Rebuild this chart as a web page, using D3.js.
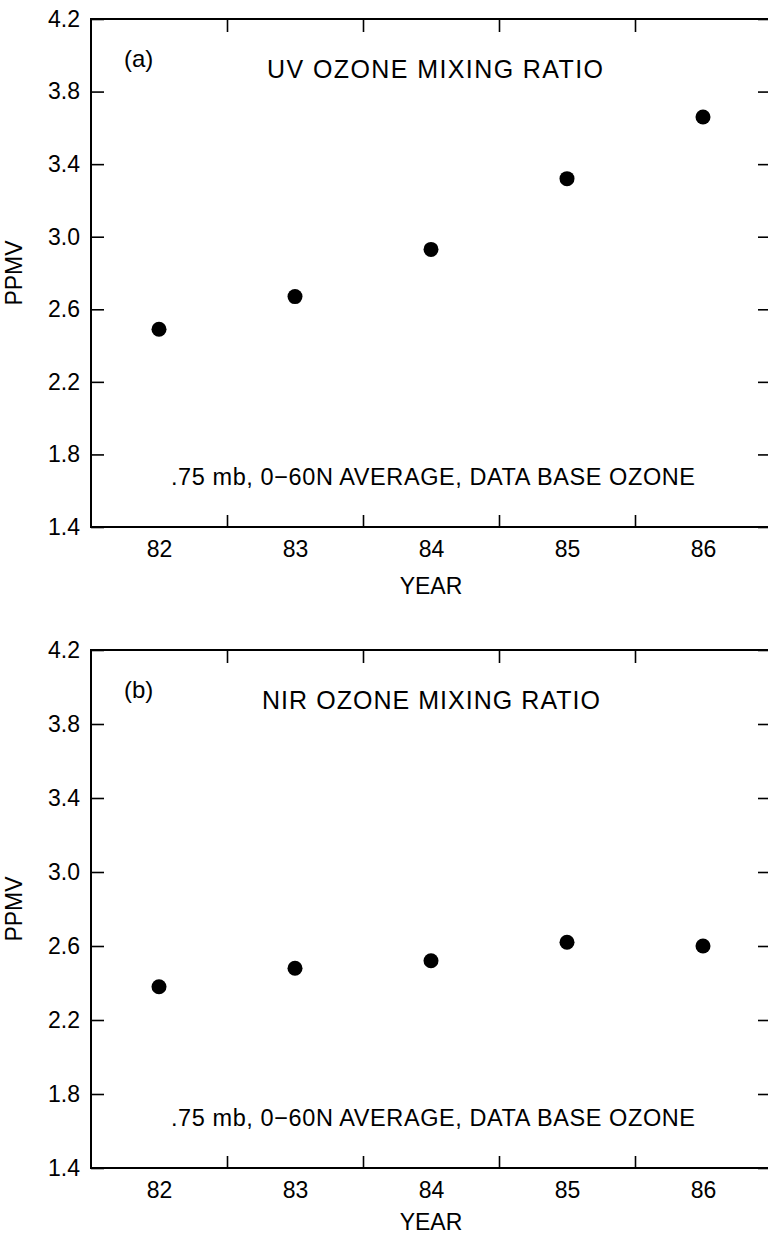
<!DOCTYPE html>
<html>
<head>
<meta charset="utf-8">
<script src="https://cdn.jsdelivr.net/npm/d3@7"></script>
<style>
  html, body { margin: 0; padding: 0; background: #fff; }
  svg { display: block; }
  text { font-family: "Liberation Sans", Arial, Helvetica, sans-serif; fill: #000; }
</style>
</head>
<body>
<svg id="chart" width="768" height="1236"></svg>
<script>
// ---- data ----
const years = [82, 83, 84, 85, 86];
const uvValues = [2.49, 2.67, 2.93, 3.32, 3.66];
const nirValues = [2.38, 2.48, 2.52, 2.62, 2.60];
const yTickValues = [1.4, 1.8, 2.2, 2.6, 3.0, 3.4, 3.8, 4.2];
const halfYearTicks = [82.5, 83.5, 84.5, 85.5];
const panelLabels = ["(a)", "(b)"];
const panelTitles = ["UV OZONE MIXING RATIO", "NIR OZONE MIXING RATIO"];
const noteText = ".75 mb, 0\u221260N AVERAGE, DATA BASE OZONE";
const xAxisTitle = "YEAR";
const yAxisTitle = "PPMV";

// ---- layout ----
const svg = d3.select("#chart");
svg.append("rect").attr("width", 768).attr("height", 1236).attr("fill", "#fff");

const left = 91, right = 771;
const panels = [
  { top: 19, bottom: 527, values: uvValues, label: panelLabels[0], title: panelTitles[0], titleX: 267, titleW: 336, yearY: 61 },
  { top: 650, bottom: 1168, values: nirValues, label: panelLabels[1], title: panelTitles[1], titleX: 262, titleW: 338, yearY: 56 }
];

const x = d3.scaleLinear().domain([81.5, 86.5]).range([left, right]);
const fmt = d3.format(".1f");

panels.forEach(p => {
  const y = d3.scaleLinear().domain([1.4, 4.2]).range([p.bottom, p.top]);
  const g = svg.append("g");

  // frame
  g.append("rect")
    .attr("x", left).attr("y", p.top)
    .attr("width", right - left).attr("height", p.bottom - p.top)
    .attr("fill", "none").attr("stroke", "#000").attr("stroke-width", 2);

  const la = g.append("g").attr("transform", `translate(${left},0)`)
    .call(d3.axisLeft(y).tickValues(yTickValues).tickFormat(fmt)
      .tickSizeInner(-13).tickSizeOuter(0).tickPadding(11));
  const ra = g.append("g").attr("transform", `translate(${right},0)`)
    .call(d3.axisRight(y).tickValues(yTickValues).tickFormat("")
      .tickSizeInner(-13).tickSizeOuter(0));
  const ba = g.append("g").attr("transform", `translate(0,${p.bottom})`)
    .call(d3.axisBottom(x).tickValues(halfYearTicks).tickFormat("")
      .tickSizeInner(-12).tickSizeOuter(0));
  const bl = g.append("g").attr("transform", `translate(0,${p.bottom})`)
    .call(d3.axisBottom(x).tickValues(years).tickFormat(d => d)
      .tickSize(0).tickPadding(14));
  const ta = g.append("g").attr("transform", `translate(0,${p.top})`)
    .call(d3.axisTop(x).tickValues(halfYearTicks).tickFormat("")
      .tickSizeInner(-13).tickSizeOuter(0));

  [la, ra, ba, bl, ta].forEach(a => {
    a.select(".domain").remove();
    a.selectAll("line").attr("stroke", "#000").attr("stroke-width", 1.6);
    a.selectAll("text").attr("font-size", 23).attr("fill", "#000")
      .attr("font-family", '"Liberation Sans", Arial, sans-serif');
  });

  // points
  g.selectAll("circle.pt").data(years.map((yr, i) => ({ yr, v: p.values[i] })))
    .enter().append("circle").attr("class", "pt")
    .attr("cx", d => x(d.yr)).attr("cy", d => y(d.v))
    .attr("r", 7.5).attr("fill", "#000");

  // panel label
  g.append("text").attr("x", 124).attr("y", p.top + 42)
    .attr("dominant-baseline", "middle").attr("font-size", 24)
    .text(p.label);

  // title
  g.append("text").attr("x", p.titleX).attr("y", p.top + 52)
    .attr("dominant-baseline", "middle").attr("font-size", 25)
    .attr("textLength", p.titleW).attr("lengthAdjust", "spacing")
    .text(p.title);

  // note
  g.append("text").attr("x", 171).attr("y", p.bottom - 48)
    .attr("dominant-baseline", "middle").attr("font-size", 23.5)
    .attr("textLength", 524).attr("lengthAdjust", "spacing")
    .text(noteText);

  // x-axis title
  g.append("text").attr("x", x(84)).attr("y", p.bottom + p.yearY)
    .attr("text-anchor", "middle").attr("dominant-baseline", "middle")
    .attr("font-size", 23).text(xAxisTitle);

  // y-axis title
  const cy = (p.top + p.bottom) / 2;
  g.append("text").attr("transform", `translate(16,${cy}) rotate(-90)`)
    .attr("text-anchor", "middle").attr("dominant-baseline", "middle")
    .attr("font-size", 23).text(yAxisTitle);
});
</script>
</body>
</html>
